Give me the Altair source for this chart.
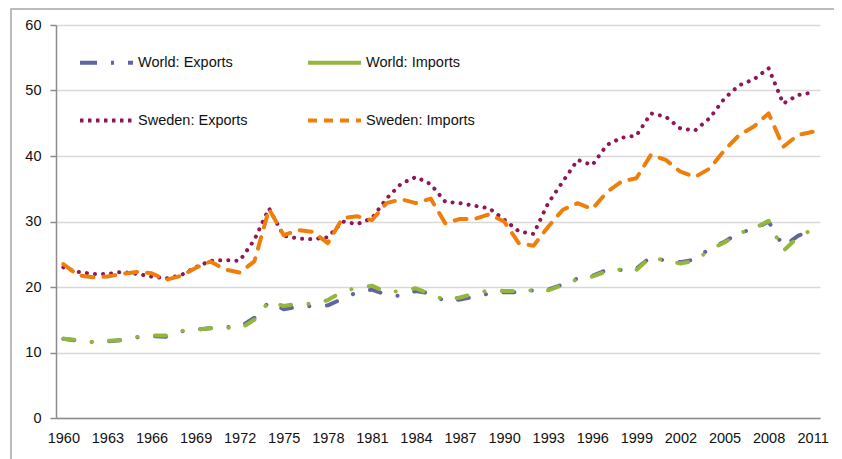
import altair as alt
import pandas as pd

years = list(range(1960, 2012))

series_names = ["World: Exports", "World: Imports", "Sweden: Exports", "Sweden: Imports"]

world_exports = [12.1, 11.8, 11.6, 11.7, 11.9, 12.3, 12.5, 12.4, 13.2, 13.5,
                 13.7, 13.9, 13.9, 15.3, 17.7, 16.6, 17.0, 17.1, 17.2, 18.2,
                 19.2, 19.6, 18.8, 18.6, 19.4, 19.0, 17.8, 18.1, 18.5, 19.0,
                 19.2, 19.2, 19.5, 19.6, 20.4, 21.3, 21.7, 22.6, 22.6, 22.8,
                 24.6, 24.0, 23.8, 24.2, 25.9, 26.9, 28.3, 28.8, 30.0, 26.2,
                 27.8, 28.8]

world_imports = [12.1, 11.9, 11.6, 11.8, 11.9, 12.4, 12.6, 12.6, 13.3, 13.5,
                 13.7, 13.8, 13.6, 15.0, 17.8, 17.1, 17.5, 17.4, 18.0, 19.3,
                 19.9, 20.2, 19.2, 19.4, 19.8, 18.9, 18.0, 18.4, 19.0, 19.5,
                 19.4, 19.4, 19.5, 19.5, 20.3, 21.2, 21.6, 22.4, 22.7, 22.6,
                 24.6, 24.0, 23.6, 24.0, 25.7, 26.8, 28.2, 28.9, 30.1, 25.5,
                 27.6, 28.8]

sweden_exports = [23.0, 22.3, 22.0, 22.0, 22.3, 22.0, 21.6, 21.3, 21.8, 23.0,
                  24.0, 24.1, 24.0, 27.2, 32.0, 27.8, 27.4, 27.3, 27.6, 30.0,
                  29.6, 30.5, 33.5, 35.8, 36.8, 35.7, 33.0, 32.8, 32.4, 32.0,
                  30.3, 28.5, 28.1, 32.8, 36.1, 39.4, 38.6, 41.7, 42.8, 43.1,
                  46.5, 46.0, 44.2, 43.9, 45.8, 48.8, 50.8, 51.7, 53.4, 48.0,
                  49.3, 49.7]

sweden_imports = [23.5, 21.8, 21.5, 21.6, 22.0, 22.3, 22.1, 21.1, 21.7, 22.9,
                  23.9, 22.7, 22.2, 23.9, 31.9, 27.9, 28.7, 28.4, 26.7, 30.5,
                  30.8, 30.2, 32.8, 33.4, 32.8, 33.5, 29.7, 30.4, 30.4, 31.1,
                  30.0, 26.7, 26.3, 29.2, 31.8, 32.8, 31.9, 34.5, 36.1, 36.6,
                  40.2, 39.4, 37.6, 36.8, 38.1, 40.9, 43.2, 44.5, 46.5, 41.4,
                  43.2, 43.7]

y_ticks = [0, 10, 20, 30, 40, 50, 60]
x_label_years = years[::3]

colors = ["#60649f", "#93b73c", "#8f1657", "#f07e0a"]
# dash patterns used on the plotted lines (round caps)
line_dashes = [[11, 17.5, 0.1, 17.5], [11, 17.5, 0.1, 17.5], [0.1, 8], [12, 10]]
# dash patterns used in the legend symbols (butt caps)
legend_dashes = [[17, 14, 3, 14], [1, 0], [3.5, 4.5], [9, 7]]

# legend is filled column by column: World: Exports / Sweden: Exports, then the Imports
legend_order = [0, 2, 1, 3]
legend_domain = [series_names[i] for i in legend_order]
legend_colors = [colors[i] for i in legend_order]
legend_dash_range = [legend_dashes[i] for i in legend_order]

rows = []
for name, vals in zip(series_names, [world_exports, world_imports, sweden_exports, sweden_imports]):
    for yr, v in zip(years, vals):
        rows.append({"year": yr, "value": v, "series": name})
df = pd.DataFrame(rows)

FONT = "Liberation Sans"

legend = alt.Legend(
    title=None, orient="none", legendX=22, legendY=9, columns=2,
    symbolType="stroke", symbolSize=2809, symbolStrokeWidth=4,
    labelFont=FONT, labelFontSize=14.5, labelColor="#111111",
    labelOffset=3, rowPadding=21, columnPadding=52, padding=0,
)

x_enc = alt.X("year:O", title=None,
              axis=alt.Axis(values=x_label_years, labelAngle=0, ticks=False, grid=False,
                            domainColor="#8c8c8c", domainWidth=1.5,
                            labelFont=FONT, labelFontSize=14.5, labelColor="#111111",
                            labelPadding=13))
y_enc = alt.Y("value:Q", title=None, scale=alt.Scale(domain=[0, 60], nice=False),
              axis=alt.Axis(values=y_ticks, tickSize=6, tickColor="#8c8c8c", tickWidth=1.5,
                            domainColor="#8c8c8c", domainWidth=1.5,
                            gridColor="#d9d9d9", gridWidth=1.5,
                            labelFont=FONT, labelFontSize=14.5, labelColor="#111111",
                            labelPadding=9))

base = alt.Chart(df)

# legend-only layer: no rows drawn, explicit domain keeps all four entries
legend_layer = base.transform_filter(alt.datum.year < 0).mark_line(strokeWidth=4).encode(
    x=x_enc, y=y_enc,
    color=alt.Color("series:N", scale=alt.Scale(domain=legend_domain, range=legend_colors), legend=legend),
    strokeDash=alt.StrokeDash("series:N", scale=alt.Scale(domain=legend_domain, range=legend_dash_range), legend=legend),
)

layers = []
for name, col, dash in zip(series_names, colors, line_dashes):
    layers.append(
        base.transform_filter(alt.datum.series == name).mark_line(
            strokeWidth=4, strokeCap="round", strokeJoin="round", color=col, strokeDash=dash
        ).encode(x=x_enc, y=y_enc)
    )

frame = alt.Chart(pd.DataFrame({"a": [0]})).mark_rect(
    fill=None, stroke="#a6a6a6", strokeWidth=1.5
).encode(x=alt.value(-45), x2=alt.value(783), y=alt.value(-16), y2=alt.value(445))

chart = alt.layer(frame, legend_layer, *layers).properties(
    width=764, height=393,
    autosize="none",
    padding={"left": 48, "top": 17, "right": 14, "bottom": 41},
).configure_view(strokeWidth=0)

chart.save("out.html", embed_options={"renderer": "svg", "actions": False})
